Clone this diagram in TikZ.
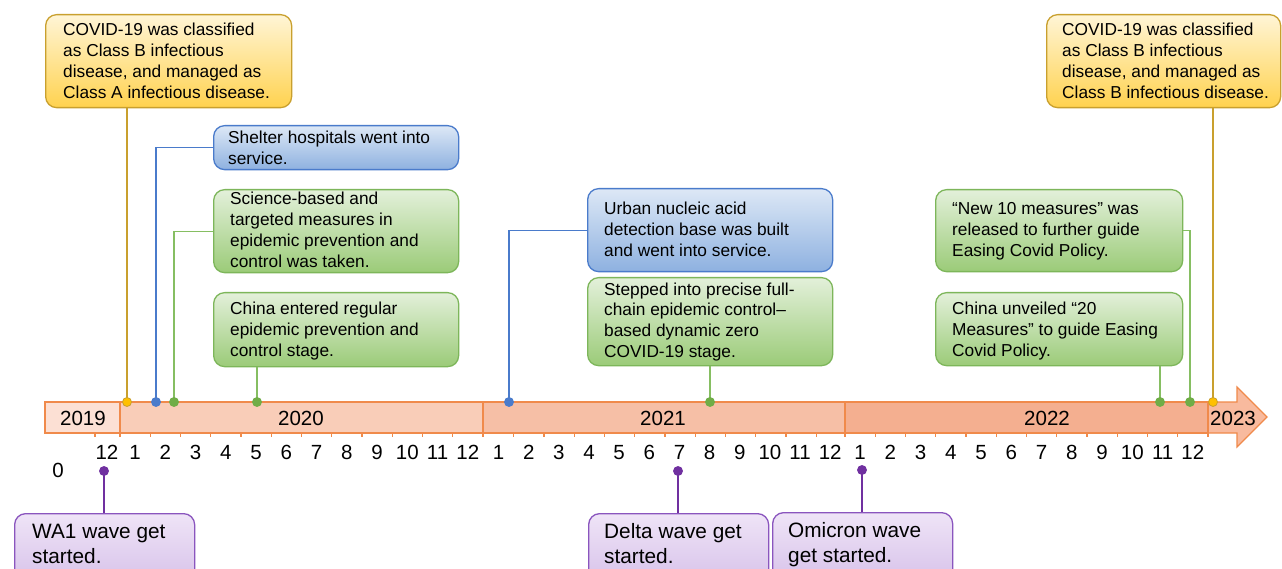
\documentclass[tikz,border=0pt]{standalone}
\usepackage{fontspec}
\setmainfont{Liberation Sans}
\usetikzlibrary{calc}
\definecolor{barline}{HTML}{F08A4B}
\definecolor{c19}{HTML}{FCE0D4}
\definecolor{c20}{HTML}{F9CDB8}
\definecolor{c21}{HTML}{F6BFA6}
\definecolor{c22}{HTML}{F4AF90}
\definecolor{carrow}{HTML}{F8BA9E}
\definecolor{ytop}{HTML}{FFF5D6}
\definecolor{ybot}{HTML}{FFD24F}
\definecolor{yline}{HTML}{C9A02E}
\definecolor{ydotc}{HTML}{FFC000}
\definecolor{btop}{HTML}{DDE8F6}
\definecolor{bbot}{HTML}{8EB1E0}
\definecolor{bline}{HTML}{4A7BCB}
\definecolor{gtop}{HTML}{E3F0DA}
\definecolor{gbot}{HTML}{9BCB78}
\definecolor{gline}{HTML}{7DB65A}
\definecolor{gdotc}{HTML}{70AD47}
\definecolor{gconn}{HTML}{86BE62}
\definecolor{ptop}{HTML}{EFE4F7}
\definecolor{pbot}{HTML}{D0B8E6}
\definecolor{pline}{HTML}{8A55BE}
\definecolor{pdotc}{HTML}{7030A0}
\newcommand\lns[1]{\begin{tabular}[t]{@{}l@{}}#1\end{tabular}}
\begin{document}
\begin{tikzpicture}[x=1pt,y=-1pt,
  card/.style={rectangle, rounded corners=11pt, line width=1.3pt, anchor=north west, inner sep=0pt},
  ybox/.style={card, draw=yline, top color=ytop, bottom color=ybot},
  bbox/.style={card, draw=bline, top color=btop, bottom color=bbot},
  gbox/.style={card, draw=gline, top color=gtop, bottom color=gbot},
  pbox/.style={card, draw=pline, top color=ptop, bottom color=pbot},
  tsmall/.style={anchor=base west, inner sep=0pt, font=\fontsize{17.3}{20.8}\selectfont},
  tbig/.style={anchor=base west, inner sep=0pt, font=\fontsize{20.8}{25}\selectfont},
  lab/.style={anchor=base, inner sep=0pt, font=\fontsize{20.5}{24}\selectfont},
  dot/.style={circle, inner sep=0pt, minimum size=9pt, line width=0.8pt},
  ydot/.style={dot, fill=ydotc, draw=yline},
  bdot/.style={dot, fill=bline, draw=bline},
  gdot/.style={dot, fill=gdotc, draw=gdotc},
  pdot/.style={dot, fill=pdotc, draw=pdotc},
  conn/.style={line width=1.2pt},
  seg/.style={draw=barline, line width=1.2pt},
  tick/.style={draw=barline, line width=1.2pt}
]
\useasboundingbox (0,0) rectangle (1282,569);
\clip (0,0) rectangle (1282,569);
\fill[white] (0,0) rectangle (1282,569);

% ---------- boxes ----------
\node[ybox, minimum width=246pt, minimum height=93pt] (A) at (45,14) {};
\node[tsmall] (At) at ($(A.north west)+(18,22)$) {\lns{COVID-19 was classified\\as Class B infectious\\disease, and managed as\\Class A infectious disease.}};

\node[bbox, minimum width=245pt, minimum height=44pt] (B) at (213,125) {};
\node[tsmall] (Bt) at ($(B.north west)+(15,19)$) {\lns{Shelter hospitals went into\\service.}};

\node[gbox, minimum width=245pt, minimum height=83pt] (C) at (213,189) {};
\node[tsmall] (Ct) at ($(C.north west)+(17,16)$) {\lns{Science-based and\\targeted measures in\\epidemic prevention and\\control was taken.}};

\node[gbox, minimum width=245pt, minimum height=74pt] (D) at (213,292) {};
\node[tsmall] (Dt) at ($(D.north west)+(17,23)$) {\lns{China entered regular\\epidemic prevention and\\control stage.}};

\node[bbox, minimum width=245pt, minimum height=83pt] (E) at (587,188) {};
\node[tsmall] (Et) at ($(E.north west)+(17,27)$) {\lns{Urban nucleic acid\\detection base was built\\and went into service.}};

\node[gbox, minimum width=245pt, minimum height=88pt] (F) at (587,277) {};
\node[tsmall] (Ft) at ($(F.north west)+(17,18)$) {\lns{Stepped into precise full-\\chain epidemic control–\\based dynamic zero\\COVID-19 stage.}};

\node[gbox, minimum width=247pt, minimum height=82pt] (G) at (935,189) {};
\node[tsmall] (Gt) at ($(G.north west)+(17,26)$) {\lns{“New 10 measures” was\\released to further guide\\Easing Covid Policy.}};

\node[gbox, minimum width=247pt, minimum height=73pt] (H) at (935,292) {};
\node[tsmall] (Ht) at ($(H.north west)+(17,23)$) {\lns{China unveiled “20\\Measures” to guide Easing\\Covid Policy.}};

\node[ybox, minimum width=234pt, minimum height=93pt] (I) at (1046,14) {};
\node[tsmall] (It) at ($(I.north west)+(16,22)$) {\lns{COVID-19 was classified\\as Class B infectious\\disease, and managed as\\Class B infectious disease.}};

\node[pbox, minimum width=180pt, minimum height=90pt] (W) at (14,513) {};
\node[tbig] (Wt) at ($(W.north west)+(18,25)$) {\lns{WA1 wave get\\started.}};

\node[pbox, minimum width=180pt, minimum height=90pt] (L) at (588,513) {};
\node[tbig] (Lt) at ($(L.north west)+(16,25)$) {\lns{Delta wave get\\started.}};

\node[pbox, minimum width=180pt, minimum height=90pt] (O) at (772,512) {};
\node[tbig] (Ot) at ($(O.north west)+(16,25)$) {\lns{Omicron wave\\get started.}};

% ---------- dot positions ----------
\coordinate (pA) at (127,402);
\coordinate (pB) at (156,402);
\coordinate (pC) at (174,402);
\coordinate (pD) at (257,402);
\coordinate (pE) at (509,402);
\coordinate (pF) at (710,402);
\coordinate (pH) at (1160,402);
\coordinate (pG) at (1190,402);
\coordinate (pI) at (1213,402);
\coordinate (pW) at (104,471);
\coordinate (pL) at (678,471);
\coordinate (pO) at (862,470);

% ---------- connectors ----------
\draw[conn, yline] (A.south -| pA) -- (pA);
\draw[conn, bline] (B.west) -| (pB);
\draw[conn, gconn] (C.west) -| (pC);
\draw[conn, gconn] (D.south -| pD) -- (pD);
\draw[conn, bline] (E.west) -| (pE);
\draw[conn, gconn] (F.south -| pF) -- (pF);
\draw[conn, gconn] (G.east) -| (pG);
\draw[conn, gconn] (H.south -| pH) -- (pH);
\draw[conn, yline] (I.south -| pI) -- (pI);
\draw[conn, pdotc] (pW) -- (W.north -| pW);
\draw[conn, pdotc] (pL) -- (L.north -| pL);
\draw[conn, pdotc] (pO) -- (O.north -| pO);

% ---------- timeline bar ----------
\path[seg, fill=carrow] (845,402) -- (1237,402) -- (1237,387) -- (1267,417) -- (1237,447) -- (1237,433) -- (845,433) -- cycle;
\path[seg, fill=c22] (845,402) rectangle (1208,433);
\path[seg, fill=c19] (45,402) rectangle (120,433);
\path[seg, fill=c20] (120,402) rectangle (483,433);
\path[seg, fill=c21] (483,402) rectangle (845,433);
\foreach \s in {120,483,845,1208} \draw[tick] (\s,402) -- (\s,437);
\draw[tick] (95,433) -- (95,437);
\foreach \s in {120,483.5,845} {
  \foreach \k in {1,...,11} \draw[tick] ({\s+\k*30.25},433) -- ({\s+\k*30.25},437);
}

% ---------- year labels ----------
\node[lab] (y19) at (83,425) {2019};
\node[lab] (y20) at (301,425) {2020};
\node[lab] (y21) at (663,425) {2021};
\node[lab] (y22) at (1047,425) {2022};
\node[lab] (y23) at (1233,425) {2023};

% ---------- month labels ----------
\node[lab] (m19) at (107,459) {12};
\node[lab] (zero) at (58,477) {0};
\foreach \m in {1,...,12} {
  \node[lab] (ma\m) at ({120+(\m-0.5)*30.25},459) {\m};
  \node[lab] (mb\m) at ({483.5+(\m-0.5)*30.15},459) {\m};
  \node[lab] (mc\m) at ({845+(\m-0.5)*30.25},459) {\m};
}

% ---------- dots ----------
\node[ydot] (dA) at (pA) {};
\node[bdot] (dB) at (pB) {};
\node[gdot] (dC) at (pC) {};
\node[gdot] (dD) at (pD) {};
\node[bdot] (dE) at (pE) {};
\node[gdot] (dF) at (pF) {};
\node[gdot] (dH) at (pH) {};
\node[gdot] (dG) at (pG) {};
\node[ydot] (dI) at (pI) {};
\node[pdot] (dW) at (pW) {};
\node[pdot] (dL) at (pL) {};
\node[pdot] (dO) at (pO) {};
\end{tikzpicture}
\end{document}
